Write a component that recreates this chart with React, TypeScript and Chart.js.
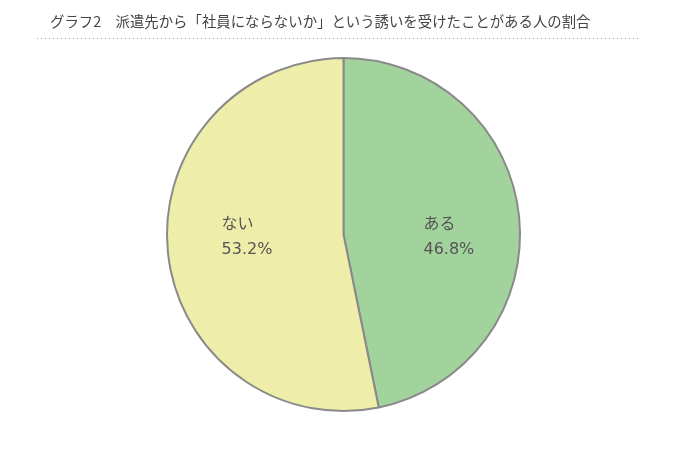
import React, { useEffect, useRef } from "react";
import { Chart, registerables } from "chart.js";

Chart.register(...registerables);

const TITLE = "グラフ2　派遣先から「社員にならないか」という誘いを受けたことがある人の割合";
const categories = ["ある", "ない"];
const values = [46.8, 53.2];
const colors = ["#a3d39c", "#eeeeaa"];

const decorPlugin = {
  id: "decor",
  beforeDraw(chart: any) {
    const ctx = chart.ctx;
    ctx.save();
    ctx.fillStyle = "#ffffff";
    ctx.fillRect(0, 0, chart.width, chart.height);
    ctx.fillStyle = "#444444";
    ctx.font = '14.4px "Noto Sans CJK JP", sans-serif';
    ctx.textBaseline = "middle";
    ctx.textAlign = "left";
    ctx.fillText(TITLE, 50, 21.5);
    ctx.strokeStyle = "#9a9a9a";
    ctx.lineWidth = 1;
    ctx.setLineDash([1, 3]);
    ctx.beginPath();
    ctx.moveTo(37, 38.5);
    ctx.lineTo(638, 38.5);
    ctx.stroke();
    ctx.restore();
  },
  afterDatasetsDraw(chart: any) {
    const ctx = chart.ctx;
    const meta = chart.getDatasetMeta(0);
    ctx.save();
    ctx.fillStyle = "#555555";
    ctx.font = '16px "DejaVu Sans", "Noto Sans CJK JP", sans-serif';
    ctx.textAlign = "left";
    ctx.textBaseline = "alphabetic";
    meta.data.forEach((arc: any, i: number) => {
      const p = arc.getProps(["x", "y", "startAngle", "endAngle", "outerRadius"], true);
      const mid = (p.startAngle + p.endAngle) / 2;
      const px = p.x + Math.cos(mid) * p.outerRadius * 0.575;
      const left = px - 21;
      ctx.fillText(categories[i], left, p.y - 5.5);
      ctx.fillText(values[i].toFixed(1) + "%", left, p.y + 19.5);
    });
    ctx.restore();
  },
};

export default function App() {
  const ref = useRef<HTMLCanvasElement>(null);
  useEffect(() => {
    if (!ref.current) return;
    const chart = new Chart(ref.current, {
      type: "pie",
      data: {
        labels: categories,
        datasets: [
          {
            data: values,
            backgroundColor: colors,
            borderColor: "#8a8a8a",
            borderWidth: 2,
          },
        ],
      },
      options: {
        animation: false,
        responsive: true,
        maintainAspectRatio: false,
        layout: { padding: { left: 166, right: 159, top: 57, bottom: 53 } },
        plugins: {
          legend: { display: false },
          tooltip: { enabled: false },
          title: { display: false },
        },
      },
      plugins: [decorPlugin],
    });
    return () => chart.destroy();
  }, []);
  return (
    <div style={{ position: "fixed", left: 0, top: 0, width: 680, height: 465, background: "#fff" }}>
      <canvas ref={ref} />
    </div>
  );
}
